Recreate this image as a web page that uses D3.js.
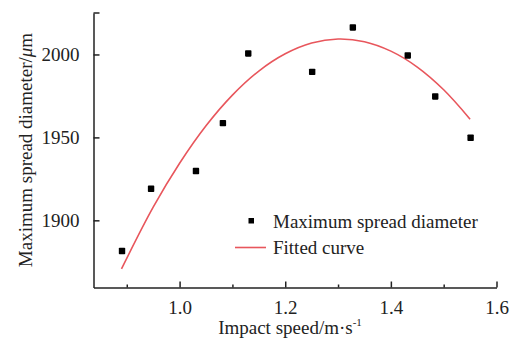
<!DOCTYPE html>
<html><head><meta charset="utf-8">
<script src="https://cdn.jsdelivr.net/npm/d3@7"></script>
<style>body{margin:0;background:#fff}svg{display:block}text{font-family:"Liberation Serif","Times New Roman",serif;fill:#222}</style>
</head><body><svg id="c" width="516" height="338"></svg>
<script>
const speeds = [0.891, 0.946, 1.031, 1.082, 1.130, 1.251, 1.328, 1.432, 1.484, 1.551];
const diameters = [1881.5, 1919, 1929.7, 1958.6, 2000.6, 1989.5, 2016.3, 1999.4, 1974.7, 1949.8];
const fitX = [0.89, 0.95, 1.0, 1.05, 1.1, 1.15, 1.2, 1.25, 1.3, 1.35, 1.4, 1.45, 1.5, 1.55];
const fitY = [1870.7, 1907.9, 1934.4, 1957.0, 1975.5, 1990.0, 2000.4, 2006.9, 2009.3, 2007.7, 2002.0, 1992.4, 1978.7, 1961.0];
const xTicks = [1.0, 1.2, 1.4, 1.6];
const xMinor = [0.9, 1.1, 1.3, 1.5];
const yTicks = [1900, 1950, 2000];
const legendLabels = ["Maximum spread diameter", "Fitted curve"];

const svg = d3.select("#c");
const x = d3.scaleLinear().domain([0.837, 1.6]).range([93.5, 496.5]);
const y = d3.scaleLinear().domain([1859.5, 2025]).range([287.5, 13]);
const ink = "#222";

// fitted curve
svg.append("path")
  .datum(fitX.map((v, i) => [v, fitY[i]]))
  .attr("d", d3.line().x(d => x(d[0])).y(d => y(d[1])).curve(d3.curveCatmullRom))
  .attr("fill", "none").attr("stroke", "#e8565c").attr("stroke-width", 1.6);

// points
svg.append("g").selectAll("rect").data(speeds).join("rect")
  .attr("x", (d) => x(d) - 3.2).attr("y", (d, i) => y(diameters[i]) - 3.2)
  .attr("width", 6.4).attr("height", 6.4).attr("rx", 0.8).attr("fill", "#000");

// axes
const xAxis = svg.append("g").attr("transform", "translate(0,287.5)")
  .call(d3.axisBottom(x).tickValues(xTicks).tickSizeInner(-6).tickSizeOuter(0).tickPadding(13).tickFormat(d3.format(".1f")));
const xMin = svg.append("g").attr("transform", "translate(0,287.5)")
  .call(d3.axisBottom(x).tickValues(xMinor).tickSizeInner(-3).tickSizeOuter(0).tickFormat(""));
xMin.select(".domain").remove();
const yAxis = svg.append("g").attr("transform", "translate(93.5,0)")
  .call(d3.axisLeft(y).tickValues(yTicks).tickSizeInner(-6).tickSizeOuter(0).tickPadding(14).tickFormat(d3.format("d")));
[xAxis, xMin, yAxis].forEach(g => {
  g.selectAll("path,line").attr("stroke", ink).attr("stroke-width", 1.5);
  g.selectAll("text").attr("font-size", 19).attr("fill", ink).style("font-family", '"Liberation Serif",serif');
});
// top end cap on y axis
svg.append("line").attr("x1", 93.5).attr("x2", 99.5).attr("y1", y(2025)).attr("y2", y(2025))
  .attr("stroke", ink).attr("stroke-width", 1.5);

// axis titles
svg.append("text").attr("x", 290).attr("y", 334).attr("text-anchor", "middle").attr("font-size", 19)
  .html('Impact speed/m·s<tspan font-size="11" dy="-8">-1</tspan>');
svg.append("text").attr("transform", "translate(32,150) rotate(-90)").attr("text-anchor", "middle").attr("font-size", 19)
  .html('Maximum spread diameter/<tspan font-style="italic">μ</tspan>m');

// legend
const lg = svg.append("g");
lg.append("rect").attr("x", 248.5).attr("y", 218).attr("width", 5.5).attr("height", 5.5).attr("fill", "#000");
lg.append("line").attr("x1", 235).attr("x2", 266).attr("y1", 247.5).attr("y2", 247.5)
  .attr("stroke", "#e8565c").attr("stroke-width", 1.6);
lg.selectAll("text").data(legendLabels).join("text")
  .attr("x", 273).attr("y", (d, i) => 227.5 + i * 26.5).attr("font-size", 19).text(d => d);
</script></body></html>
